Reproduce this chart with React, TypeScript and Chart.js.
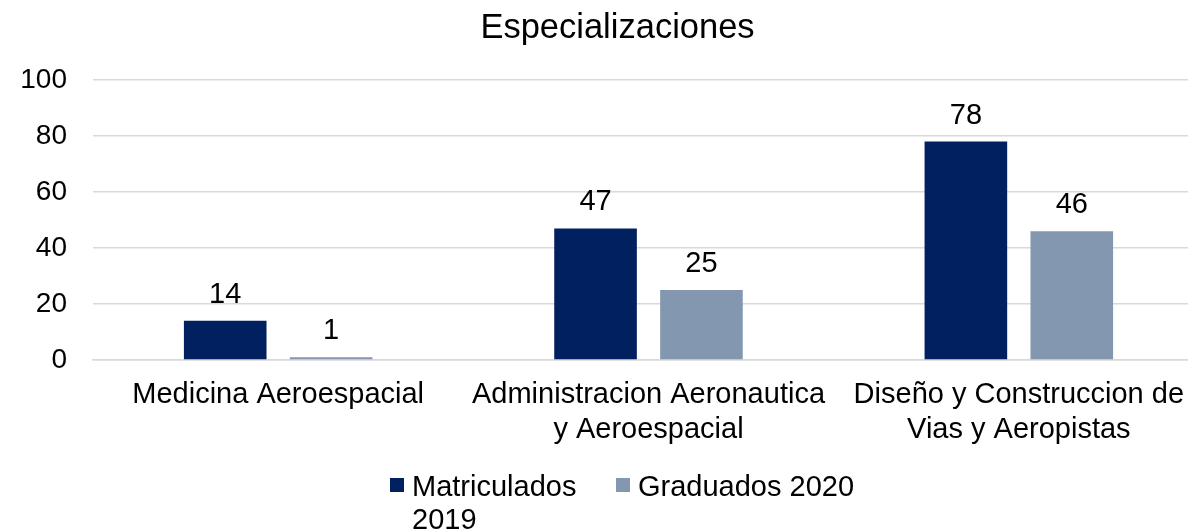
import React, { useEffect, useRef } from "react";
import { Chart, registerables } from "chart.js";

Chart.register(...registerables);

const title = "Especializaciones";
const categories: (string | string[])[] = [
  "Medicina Aeroespacial",
  ["Administracion Aeronautica", "y Aeroespacial"],
  ["Diseño y Construccion de", "Vias y Aeropistas"],
];
const matriculados2019 = [14, 47, 78];
const graduados2020 = [1, 25, 46];
const seriesNames = [["Matriculados", "2019"], ["Graduados 2020"]];
const colors = ["#002060", "#8497B0"];
const yTicks = { min: 0, max: 100, step: 20 };

const FONT = "'Liberation Sans', Arial, sans-serif";
const VIEW_W = 1196;
const CANVAS_W = 1204;
const H = 531;

const titlePlugin = {
  id: "customTitle",
  afterDraw(chart: any) {
    const ctx = chart.ctx;
    ctx.save();
    ctx.font = `34.5px ${FONT}`;
    ctx.fillStyle = "#000";
    ctx.textAlign = "center";
    ctx.textBaseline = "alphabetic";
    ctx.fillText(title, VIEW_W / 2 + 19.5, 38);
    ctx.restore();
  },
};

const gridTrimPlugin = {
  id: "gridTrim",
  beforeDatasetsDraw(chart: any) {
    // the reference's gridlines stop short of the image's right edge
    const ctx = chart.ctx;
    const area = chart.chartArea;
    ctx.save();
    ctx.fillStyle = "#fff";
    ctx.fillRect(1188, area.top - 5, chart.width - 1188, area.bottom - area.top + 8);
    ctx.restore();
  },
};

const dataLabelPlugin = {
  id: "dataLabels",
  afterDatasetsDraw(chart: any) {
    const ctx = chart.ctx;
    ctx.save();
    ctx.font = `29px ${FONT}`;
    ctx.fillStyle = "#000";
    ctx.textAlign = "center";
    ctx.textBaseline = "alphabetic";
    chart.data.datasets.forEach((ds: any, i: number) => {
      const meta = chart.getDatasetMeta(i);
      meta.data.forEach((bar: any, j: number) => {
        ctx.fillText(String(ds.data[j]), bar.x, bar.y - 18);
      });
    });
    ctx.restore();
  },
};

const customLegendPlugin = {
  id: "customLegend",
  afterDraw(chart: any) {
    const ctx = chart.ctx;
    ctx.save();
    ctx.font = `29px ${FONT}`;
    ctx.textBaseline = "alphabetic";
    ctx.textAlign = "left";
    const startX = VIEW_W / 2 - 208;
    const baseY = 496;
    const lineH = 32.5;
    const itemXs = [startX, startX + 226];
    chart.data.datasets.forEach((ds: any, i: number) => {
      const x = itemXs[i];
      ctx.fillStyle = ds.backgroundColor;
      ctx.fillRect(x, baseY - 18, 14, 14);
      ctx.fillStyle = "#000";
      const lines = seriesNames[i];
      lines.forEach((ln: string, k: number) => {
        ctx.fillText(ln, x + 22, baseY + k * lineH);
      });
    });
    ctx.restore();
  },
};

export default function App() {
  const ref = useRef<HTMLCanvasElement | null>(null);
  useEffect(() => {
    if (!ref.current) return;
    const chart = new Chart(ref.current, {
      type: "bar",
      data: {
        labels: categories,
        datasets: [
          {
            label: "Matriculados 2019",
            data: matriculados2019,
            backgroundColor: colors[0],
            categoryPercentage: 0.572,
            barPercentage: 0.78,
          },
          {
            label: "Graduados 2020",
            data: graduados2020,
            backgroundColor: colors[1],
            categoryPercentage: 0.572,
            barPercentage: 0.78,
          },
        ],
      },
      options: {
        animation: false,
        responsive: false,
        maintainAspectRatio: false,
        layout: { padding: { left: 0, right: 0, top: 80, bottom: 0 } },
        plugins: {
          legend: { display: false },
          tooltip: { enabled: false },
          title: { display: false },
        },
        scales: {
          x: {
            grid: { display: false, drawTicks: false },
            border: { display: true, color: "#d9d9d9", width: 1.5 },
            ticks: {
              color: "#000",
              font: { family: FONT, size: 29 },
              padding: 18,
              maxRotation: 0,
              autoSkip: false,
            },
            afterFit(scale: any) {
              scale.height = 171;
            },
          },
          y: {
            min: yTicks.min,
            max: yTicks.max,
            grid: { color: "#d9d9d9", lineWidth: 1.5, drawTicks: false },
            border: { display: false },
            ticks: {
              stepSize: yTicks.step,
              color: "#000",
              font: { family: FONT, size: 28 },
              padding: 26,
            },
            afterFit(scale: any) {
              scale.width = 93;
            },
          },
        },
      },
      plugins: [gridTrimPlugin, dataLabelPlugin, customLegendPlugin, titlePlugin],
    });
    return () => chart.destroy();
  }, []);
  return (
    <div
      style={{
        position: "fixed",
        left: 0,
        top: 0,
        width: VIEW_W,
        height: H,
        overflow: "hidden",
        background: "#fff",
      }}
    >
      <canvas
        ref={ref}
        width={CANVAS_W}
        height={H}
        style={{ width: CANVAS_W, height: H, display: "block" }}
      />
    </div>
  );
}
